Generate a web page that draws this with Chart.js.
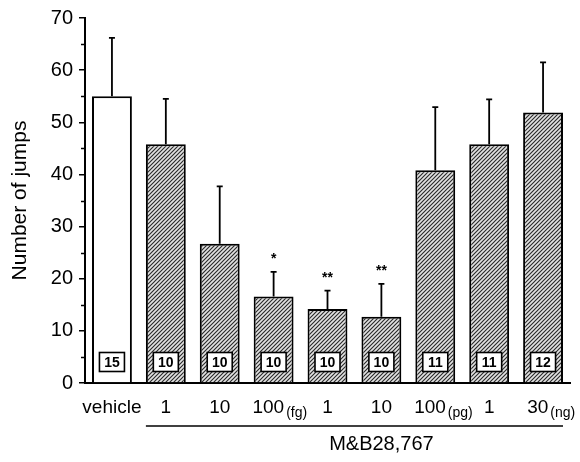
<!DOCTYPE html>
<html><head><meta charset="utf-8">
<script src="https://cdn.jsdelivr.net/npm/chart.js@4"></script>
<style>html,body{margin:0;padding:0;background:#fff}</style>
</head><body>
<canvas id="c" width="580" height="462"></canvas>
<script>
const categories = ['vehicle', '1', '10', '100', '1', '10', '100', '1', '30'];
const unitLabels = ['', '', '', '(fg)', '', '', '(pg)', '', '(ng)'];
const meanJumps = [55, 45.8, 26.7, 16.6, 14.2, 12.7, 40.8, 45.8, 51.9];
const errorUpper = [11.2, 8.7, 11.0, 4.7, 3.5, 6.3, 12.1, 8.6, 9.6];
const nAnimals = [15, 10, 10, 10, 10, 10, 11, 11, 12];
const significance = ['', '', '', '*', '**', '**', '', '', ''];
const yTickValues = [0, 10, 20, 30, 40, 50, 60, 70];
const groupLabel = 'M&B28,767';
const yTitle = 'Number of jumps';

const FONT = '"Liberation Sans", Arial, Helvetica, sans-serif';
const TICK_SIZE = 19;
const PAD = '  ';
const canvas = document.getElementById('c');
const ctx0 = canvas.getContext('2d');

function makeHatch() {
  const s = 4;
  const c = document.createElement('canvas');
  c.width = s; c.height = s;
  const g = c.getContext('2d');
  g.fillStyle = '#e2e2e2';
  g.fillRect(0, 0, s, s);
  g.strokeStyle = '#2a2a2a';
  g.lineWidth = 1.15;
  g.beginPath();
  g.moveTo(0, s); g.lineTo(s, 0);
  g.moveTo(-1, 1); g.lineTo(1, -1);
  g.moveTo(s - 1, s + 1); g.lineTo(s + 1, s - 1);
  g.stroke();
  return ctx0.createPattern(c, 'repeat');
}
const hatch = makeHatch();
const barColors = categories.map((c, i) => i === 0 ? '#ffffff' : hatch);

const annotate = {
  id: 'annotate',
  afterDatasetsDraw(chart) {
    const ctx = chart.ctx;
    const y = chart.scales.y;
    const meta = chart.getDatasetMeta(0);
    ctx.save();
    ctx.strokeStyle = '#000';
    ctx.lineWidth = 1.8;
    meta.data.forEach((bar, i) => {
      const top = y.getPixelForValue(meanJumps[i]);
      const et = y.getPixelForValue(meanJumps[i] + errorUpper[i]);
      ctx.beginPath();
      ctx.moveTo(bar.x, top);
      ctx.lineTo(bar.x, et);
      ctx.moveTo(bar.x - 3, et);
      ctx.lineTo(bar.x + 3, et);
      ctx.stroke();
      if (significance[i]) {
        ctx.fillStyle = '#000';
        ctx.font = 'bold 14px ' + FONT;
        ctx.textAlign = 'center';
        ctx.textBaseline = 'middle';
        ctx.fillText(significance[i], bar.x, et - 13);
      }
    });
    const base = y.getPixelForValue(0);
    meta.data.forEach((bar, i) => {
      const w = 25, h = 19;
      const cy = base - 21;
      ctx.fillStyle = '#fff';
      ctx.fillRect(bar.x - w / 2, cy - h / 2, w, h);
      ctx.strokeStyle = '#000';
      ctx.lineWidth = 1.6;
      ctx.strokeRect(bar.x - w / 2, cy - h / 2, w, h);
      ctx.fillStyle = '#000';
      ctx.font = 'bold 14px ' + FONT;
      ctx.textAlign = 'center';
      ctx.textBaseline = 'middle';
      ctx.fillText(String(nAnimals[i]), bar.x, cy + 1);
    });
    ctx.restore();
  },
  afterDraw(chart) {
    const ctx = chart.ctx;
    const x = chart.scales.x;
    const meta = chart.getDatasetMeta(0);
    ctx.save();
    categories.forEach((c, i) => {
      if (!unitLabels[i]) return;
      ctx.font = TICK_SIZE + 'px ' + FONT;
      const wText = ctx.measureText(c).width;
      const wTotal = ctx.measureText(c + PAD).width;
      const px = x.getPixelForValue(i);
      const right = px - wTotal / 2 + wText;
      ctx.font = '14px ' + FONT;
      ctx.fillStyle = '#000';
      ctx.textAlign = 'left';
      ctx.textBaseline = 'middle';
      ctx.fillText(unitLabels[i], right + 2, x.top + 30);
    });
    const first = meta.data[1], last = meta.data[meta.data.length - 1];
    const lx1 = first.x - first.width / 2;
    const lx2 = last.x + last.width / 2;
    const ly = x.top + 43;
    ctx.strokeStyle = '#000';
    ctx.lineWidth = 1.5;
    ctx.beginPath();
    ctx.moveTo(lx1, ly);
    ctx.lineTo(lx2, ly);
    ctx.stroke();
    ctx.fillStyle = '#000';
    ctx.font = '20px ' + FONT;
    ctx.textAlign = 'center';
    ctx.textBaseline = 'middle';
    ctx.fillText(groupLabel, x.getPixelForValue(5), x.top + 61);
    const y = chart.scales.y;
    ctx.lineWidth = 1.5;
    for (let v = 5; v < 70; v += 10) {
      const py = Math.round(y.getPixelForValue(v)) + 0.5;
      ctx.beginPath();
      ctx.moveTo(y.right - 4, py);
      ctx.lineTo(y.right, py);
      ctx.stroke();
    }
    ctx.restore();
  }
};

new Chart(canvas, {
  type: 'bar',
  data: {
    labels: categories,
    datasets: [{
      data: meanJumps,
      backgroundColor: barColors,
      borderColor: '#000',
      borderWidth: 2,
      barPercentage: 0.74,
      categoryPercentage: 1.0
    }]
  },
  options: {
    responsive: false,
    animation: false,
    devicePixelRatio: 1,
    layout: { padding: { left: 0, right: 10, top: 18, bottom: 0 } },
    plugins: { legend: { display: false }, tooltip: { enabled: false } },
    scales: {
      x: {
        grid: { display: false, drawTicks: false },
        border: { display: true, color: '#000', width: 2 },
        ticks: {
          color: '#000', font: { family: FONT, size: TICK_SIZE }, padding: 13, maxRotation: 0, autoSkip: false,
          callback: (v, i) => categories[i] + (unitLabels[i] ? PAD : '')
        },
        afterFit(s) { s.height = 462 - 383; }
      },
      y: {
        min: 0, max: 70,
        afterBuildTicks(s) { s.ticks = yTickValues.map(v => ({ value: v })); },
        grid: { drawOnChartArea: false, drawTicks: true, tickLength: 6, color: '#000', lineWidth: 1.5 },
        border: { display: true, color: '#000', width: 2 },
        ticks: { color: '#000', font: { family: FONT, size: 20 }, padding: 6 },
        title: { display: true, text: yTitle, color: '#000', font: { family: FONT, size: 21 }, padding: { top: 8, bottom: 0 } },
        afterFit(s) { s.width = 85; }
      }
    }
  },
  plugins: [annotate]
});
</script>
</body></html>
